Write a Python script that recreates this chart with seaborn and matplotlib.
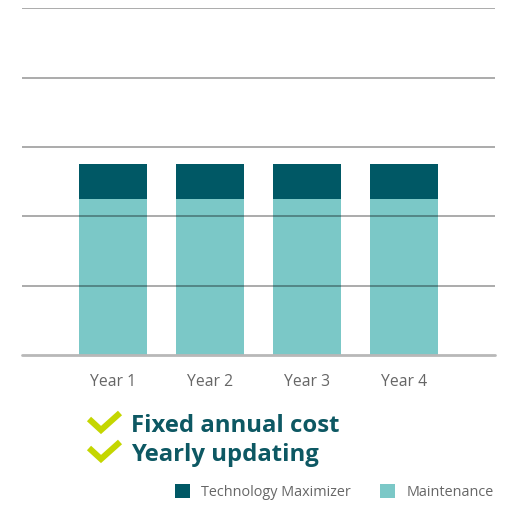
import numpy as np
import pandas as pd
import matplotlib
matplotlib.use("Agg")
import matplotlib.pyplot as plt
from matplotlib.lines import Line2D
from matplotlib.patches import Patch
import seaborn as sns

# ---------- Data ----------
years = ["Year 1", "Year 2", "Year 3", "Year 4"]
maintenance = [2.25, 2.25, 2.25, 2.25]
technology = [0.5, 0.5, 0.5, 0.5]
benefits = ["Fixed annual cost", "Yearly updating"]

DARK = "#005865"
LIGHT = "#7bc8c7"
LIME = "#c4d600"
TEXT = "#0d5863"
GREY = "#666666"

sns.set_theme(style="white")
plt.rcParams["font.family"] = ["Open Sans", "DejaVu Sans"]

df = pd.DataFrame({"year": years,
                   "maintenance": maintenance,
                   "total": np.array(maintenance) + np.array(technology)})

fig = plt.figure(figsize=(5.07, 5.08), dpi=100)
ax = fig.add_axes([22 / 507, 1 - 355 / 508, 473 / 507, (355 - 8.3) / 508])

# stacked look: total in dark, maintenance on top in light
sns.barplot(data=df, x="year", y="total", color=DARK, width=0.70,
            saturation=1, ax=ax, label="Technology Maximizer")
sns.barplot(data=df, x="year", y="maintenance", color=LIGHT, width=0.70,
            saturation=1, ax=ax, label="Maintenance")
for p in ax.patches:
    p.set_edgecolor("none")
    p.set_linewidth(0)

ax.set_xlim(-0.938, 3.938)
ax.set_ylim(0, 5)
ax.set_yticks([1, 2, 3, 4, 5])
ax.set_yticklabels([])
ax.set_axisbelow(False)
ax.yaxis.grid(True, color="black", alpha=0.42, linewidth=1.1, zorder=3)
ax.axhline(0, color="#b8b8b8", linewidth=2, zorder=3, clip_on=False)
for s in ax.spines.values():
    s.set_visible(False)
ax.tick_params(axis="both", length=0)
ax.tick_params(axis="x", pad=14, labelsize=11.3, labelcolor=GREY)
ax.set_xlabel("")
ax.set_ylabel("")
if ax.get_legend():
    ax.get_legend().remove()

# benefit lines with check marks
for i, txt in enumerate(benefits):
    base = 432 + i * 29
    fig.text(131 / 507, 1 - base / 508, txt, fontsize=17.2, fontweight="bold",
             color=TEXT, va="baseline", ha="left")
    cx = [89, 101, 120]
    cy = [base - 13, base - 2, base - 19]
    fig.add_artist(Line2D([x / 507 for x in cx], [1 - y / 508 for y in cy],
                          transform=fig.transFigure, color=LIME,
                          linewidth=4.4, solid_joinstyle="miter",
                          solid_capstyle="butt"))

handles = [Patch(facecolor=DARK, edgecolor="none"),
           Patch(facecolor=LIGHT, edgecolor="none")]
fig.legend(handles, ["Technology Maximizer", "Maintenance"], ncol=2,
           loc="center right", bbox_to_anchor=(494 / 507, 1 - 492 / 508),
           frameon=False, fontsize=10.4, labelcolor=GREY, handlelength=1.05,
           handleheight=1.05, handletextpad=0.8, columnspacing=2.0,
           borderaxespad=0, borderpad=0)

fig.savefig("out.png", dpi=100)
